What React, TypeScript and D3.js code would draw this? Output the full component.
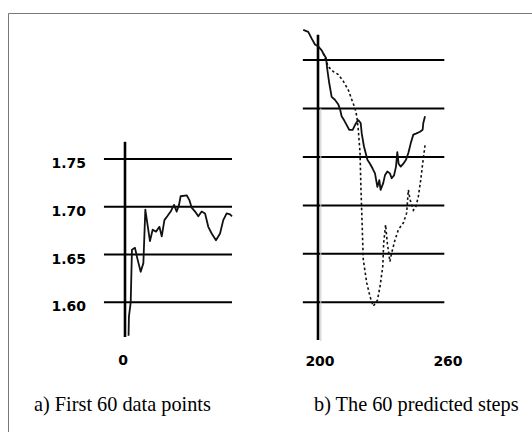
import React from "react";
import * as d3 from "d3";

// ---- Data ----
const leftTicks = [1.6, 1.65, 1.7, 1.75];
const leftTickLabels = ["1.60", "1.65", "1.70", "1.75"];
const rightGrid = [1.6, 1.65, 1.7, 1.75, 1.8, 1.85];

const leftX = [2, 2.2, 3.2, 3.9, 5.6, 6.9, 8.8, 10.3, 11.4, 12.5, 14, 15.5, 17.4, 19.3, 20.6, 22.1, 23.7, 25.6, 27.5, 29, 30.3, 31.2, 34.6, 36.1, 37.4, 39.3, 41.1, 43, 44.9, 46.7, 48.6, 51, 53.3, 55.1, 57, 58.9, 60];
const leftV = [1.565, 1.585, 1.6, 1.655, 1.657, 1.646, 1.632, 1.641, 1.697, 1.683, 1.664, 1.676, 1.674, 1.679, 1.669, 1.686, 1.69, 1.695, 1.702, 1.695, 1.702, 1.711, 1.712, 1.707, 1.699, 1.695, 1.69, 1.695, 1.693, 1.679, 1.672, 1.665, 1.672, 1.686, 1.693, 1.692, 1.69];

const actualX = [193.2, 195.5, 197.1, 198.6, 200.1, 201.7, 202.4, 203.7, 204.3, 205.2, 206.3, 207.8, 209.4, 210.2, 210.9, 212, 213.2, 214.4, 216, 217.1, 217.9, 218.6, 219.7, 220.2, 221.2, 222.8, 224, 225.2, 226.3, 227.4, 228.3, 228.9, 230.1, 230.9, 232, 233.2, 234, 235.1, 236, 236.6, 237.2, 238.2, 239.4, 240.6, 241.7, 242.8, 244, 245.2, 247.1, 248.3, 248.6, 249.4];
const actualV = [1.881, 1.879, 1.872, 1.866, 1.864, 1.86, 1.857, 1.852, 1.84, 1.826, 1.812, 1.809, 1.804, 1.799, 1.792, 1.788, 1.783, 1.778, 1.778, 1.783, 1.786, 1.788, 1.785, 1.774, 1.761, 1.747, 1.743, 1.738, 1.733, 1.719, 1.726, 1.716, 1.723, 1.731, 1.735, 1.733, 1.728, 1.731, 1.74, 1.755, 1.743, 1.74, 1.743, 1.747, 1.754, 1.764, 1.773, 1.774, 1.776, 1.778, 1.785, 1.792];

const predX = [202.4, 204.8, 207.1, 209.4, 211.7, 214, 215.6, 217.1, 217.9, 218.6, 219.4, 219.8, 220.2, 220.9, 222.5, 224, 225.5, 227.4, 228.6, 229.9, 230.3, 231.2, 232, 233.2, 234, 235.5, 237.1, 239.4, 240.9, 241.7, 242.5, 244, 245.2, 246.3, 247.4, 248.3, 249.4];
const predV = [1.857, 1.843, 1.838, 1.835, 1.828, 1.819, 1.809, 1.8, 1.792, 1.778, 1.754, 1.719, 1.692, 1.644, 1.62, 1.606, 1.596, 1.602, 1.616, 1.637, 1.661, 1.68, 1.661, 1.642, 1.651, 1.664, 1.675, 1.682, 1.692, 1.716, 1.706, 1.695, 1.699, 1.709, 1.726, 1.743, 1.762];

const leftXTick = [0];
const rightXTicks = [200, 260];
const captions = ["a) First 60 data points", "b) The 60 predicted steps"];

export default function App() {
  const W = 532, H = 432;
  const xL = d3.scaleLinear().domain([0, 60]).range([125, 232]);
  const yL = d3.scaleLinear().domain([1.6, 1.75]).range([302.3, 159]);
  const xR = d3.scaleLinear().domain([200, 260]).range([318, 448]);
  const yR = d3.scaleLinear().domain([1.6, 1.85]).range([302.3, 60]);

  const lineL = d3.line<number>().x((_, i) => xL(leftX[i])).y((v) => yL(v));
  const lineA = d3.line<number>().x((_, i) => xR(actualX[i])).y((v) => yR(v));
  const lineP = d3.line<number>().x((_, i) => xR(predX[i])).y((v) => yR(v));

  const tickFont = { fontFamily: "DejaVu Sans", fontWeight: 700, fontSize: 14 } as const;

  return (
    <svg width={W} height={H} style={{ position: "absolute", left: 0, top: 0, background: "#fff" }}>
      {/* frame */}
      <line x1={8.5} y1={13.5} x2={W} y2={13.5} stroke="#777" strokeWidth={1} />
      <line x1={8.5} y1={13.5} x2={8.5} y2={H} stroke="#777" strokeWidth={1} />

      {/* left panel grid */}
      {leftTicks.map((t, i) => (
        <g key={"lg" + i}>
          <line x1={xL(-11.8)} x2={xL(60)} y1={yL(t)} y2={yL(t)} stroke="#000" strokeWidth={2} />
          <text x={86} y={yL(t) + 9} textAnchor="end" {...tickFont}>{leftTickLabels[i]}</text>
        </g>
      ))}
      <line x1={xL(0)} x2={xL(0)} y1={yL(1.768)} y2={yL(1.5637)} stroke="#000" strokeWidth={2.6} />
      {leftXTick.map((t) => (
        <text key={"lx" + t} x={xL(t) - 2} y={365} textAnchor="middle" {...tickFont}>{t}</text>
      ))}
      <path d={lineL(leftV) || ""} fill="none" stroke="#111" strokeWidth={1.8} strokeLinejoin="round" />

      {/* right panel grid */}
      {rightGrid.map((t, i) => (
        <line key={"rg" + i} x1={xR(193)} x2={xR(258.3)} y1={yR(t)} y2={yR(t)} stroke="#000" strokeWidth={2} />
      ))}
      <line x1={xR(201.3)} x2={xR(201.3)} y1={yR(1.8)} y2={yR(1.56)} stroke="#ccc" strokeWidth={1} />
      <line x1={xR(200)} x2={xR(200)} y1={yR(1.876)} y2={yR(1.561)} stroke="#000" strokeWidth={2.6} />
      {rightXTicks.map((t) => (
        <text key={"rx" + t} x={xR(t) + (t === 200 ? 2 : 0)} y={366} textAnchor="middle" {...tickFont}>{t}</text>
      ))}
      <path d={lineP(predV) || ""} fill="none" stroke="#111" strokeWidth={1.6} strokeDasharray="2.5 2.5" />
      <path d={lineA(actualV) || ""} fill="none" stroke="#111" strokeWidth={1.8} strokeLinejoin="round" />

      {/* captions */}
      <text x={34} y={411} fontFamily="Liberation Serif" fontSize={20.3}>{captions[0]}</text>
      <text x={314} y={411} fontFamily="Liberation Serif" fontSize={20.3}>{captions[1]}</text>
    </svg>
  );
}
